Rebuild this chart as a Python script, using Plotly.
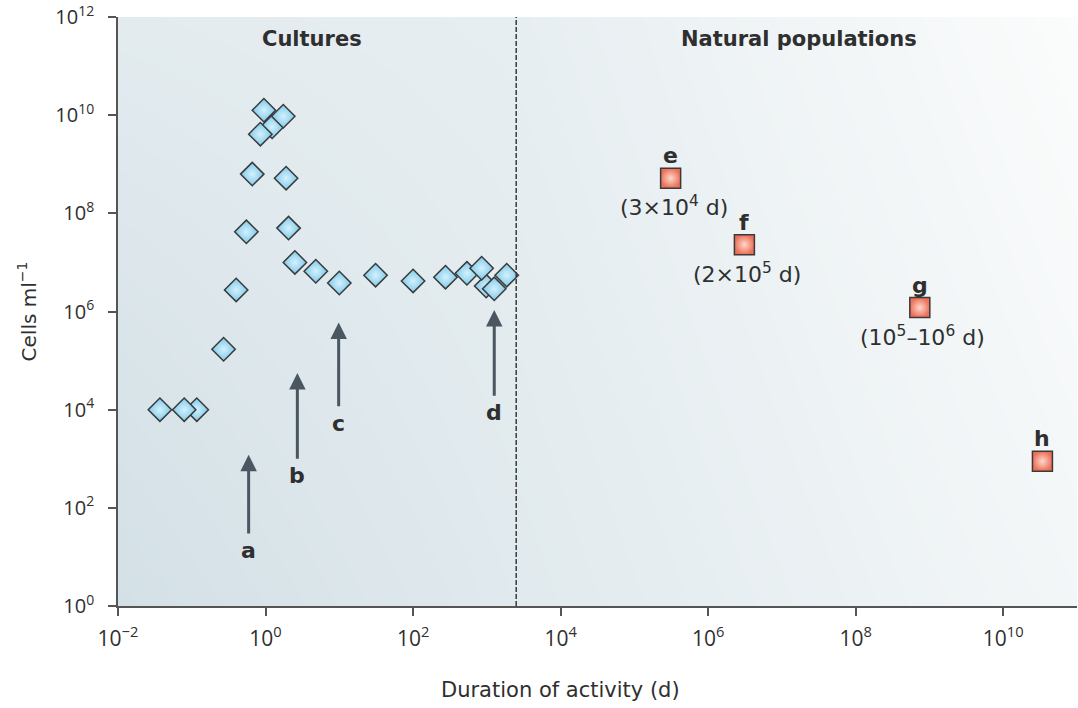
import plotly.graph_objects as go
import math

# ---- data ----
culture_days = [0.117, 1.23, 980, 0.037, 0.079, 0.27, 0.40, 0.55, 0.66, 0.85, 0.95, 1.74, 1.9, 2.05,
                2.5, 4.8, 10, 31, 100, 275, 537, 850, 1260, 1860]
culture_cells = [1e4, 5.8e9, 3.3e6, 1e4, 1e4, 1.7e5, 2.75e6, 4.2e7, 6.3e8, 4.1e9, 1.26e10, 9.5e9, 5.2e8, 5.0e7,
                 1.0e7, 6.6e6, 3.8e6, 5.5e6, 4.2e6, 5.0e6, 6.0e6, 7.6e6, 2.9e6, 5.5e6]

natural_labels = ["e", "f", "g", "h"]
natural_days = [3.1e5, 3.1e6, 7.4e8, 3.4e10]
natural_cells = [5.2e8, 2.3e7, 1.2e6, 890]
natural_notes = ["(3×10<sup>4</sup> d)", "(2×10<sup>5</sup> d)", "(10<sup>5</sup>–10<sup>6</sup> d)", ""]

arrow_labels = ["a", "b", "c", "d"]
arrow_days = [0.59, 2.7, 9.8, 1260]
arrow_tip_cells = [1.2e3, 5.6e4, 6.0e5, 1.07e6]
arrow_tail_cells = [28, 930, 1.1e4, 1.8e4]

divider_day = 2500
header_texts = ["Cultures", "Natural populations"]
header_days = [4.2, 1.7e7]

x_tickvals = [1e-2, 1, 1e2, 1e4, 1e6, 1e8, 1e10]
x_ticktext = ["10<sup>−2</sup>", "10<sup>0</sup>", "10<sup>2</sup>", "10<sup>4</sup>",
              "10<sup>6</sup>", "10<sup>8</sup>", "10<sup>10</sup>"]
y_tickvals = [1, 1e2, 1e4, 1e6, 1e8, 1e10, 1e12]
y_ticktext = ["10<sup>0</sup>", "10<sup>2</sup>", "10<sup>4</sup>", "10<sup>6</sup>",
              "10<sup>8</sup>", "10<sup>10</sup>", "10<sup>12</sup>"]

# background shading grid (decorative)
bg_x = [1e-2, 2500, 1e11]
bg_y = [1, 1e6, 1e12]
bg_z = [[1.00, 0.66, 0.20],
        [0.82, 0.58, 0.10],
        [0.60, 0.50, 0.00]]

FONT = "DejaVu Sans"
TICKFONT = "Open Sans"
TXT = "#2f2f2f"

fig = go.Figure()

fig.add_trace(go.Heatmap(
    x=bg_x, y=bg_y, z=bg_z, zsmooth="best", showscale=False, hoverinfo="skip",
    zmin=0, zmax=1, colorscale=[[0, "#fbfcfc"], [1, "#d3e0e6"]],
))

fig.add_trace(go.Scatter(
    x=culture_days, y=culture_cells, mode="markers", name="Cultures",
    marker=dict(symbol="diamond", size=18, color="#7ec9ea",
                gradient=dict(type="radial", color="#d4f1fc"),
                line=dict(color="#3a3a3a", width=1.5)),
    showlegend=False,
))

fig.add_trace(go.Scatter(
    x=natural_days, y=natural_cells, mode="markers", name="Natural populations",
    marker=dict(symbol="square", size=20, color="#ec6f58",
                gradient=dict(type="radial", color="#fdd9cc"),
                line=dict(color="#3a3a3a", width=1.5)),
    showlegend=False,
))

ann = []
for txt, xd in zip(header_texts, header_days):
    ann.append(dict(x=math.log10(xd), y=1.0, xref="x", yref="paper", yanchor="top", yshift=-8,
                    text=f"<b>{txt}</b>", showarrow=False, font=dict(family=FONT, size=21, color=TXT)))

for lab, xd, yc, note in zip(natural_labels, natural_days, natural_cells, natural_notes):
    ann.append(dict(x=math.log10(xd), y=math.log10(yc), text=f"<b>{lab}</b>", showarrow=False,
                    yanchor="bottom", yshift=8, font=dict(family=FONT, size=22, color=TXT)))
    if note:
        ann.append(dict(x=math.log10(xd), y=math.log10(yc), text=note, showarrow=False,
                        yanchor="top", yshift=-12, xshift=3, font=dict(family=FONT, size=22, color=TXT)))

for lab, xd, tip, tail in zip(arrow_labels, arrow_days, arrow_tip_cells, arrow_tail_cells):
    ann.append(dict(x=math.log10(xd), y=math.log10(tip), ax=math.log10(xd), ay=math.log10(tail),
                    axref="x", ayref="y", text="", showarrow=True, arrowhead=2, arrowsize=1.1,
                    arrowwidth=3, arrowcolor="#4a5660", standoff=0, startstandoff=0))
    ann.append(dict(x=math.log10(xd), y=math.log10(tail), text=f"<b>{lab}</b>", showarrow=False,
                    yanchor="top", yshift=-1, font=dict(family=FONT, size=22, color=TXT)))

# axis titles as paper annotations
ann.append(dict(x=-0.095, y=0.5, xref="paper", yref="paper", text="Cells ml<sup>−1</sup>", textangle=-90,
                showarrow=False, xanchor="center", yanchor="middle", font=dict(family=FONT, size=20, color=TXT)))
ann.append(dict(x=0.461, y=-0.143, xref="paper", yref="paper", text="Duration of activity (d)",
                showarrow=False, xanchor="center", yanchor="middle", font=dict(family=FONT, size=21, color=TXT)))

fig.update_layout(
    width=1078, height=708,
    margin=dict(l=118, r=1, t=17, b=102, autoexpand=False),
    paper_bgcolor="white", plot_bgcolor="white",
    font=dict(family=FONT, color=TXT),
    annotations=ann,
    shapes=[dict(type="line", xref="x", yref="paper", x0=divider_day, x1=divider_day,
                 y0=0, y1=1, line=dict(color="#3a3a3a", width=1.5, dash="5px,2px"))],
)

fig.update_xaxes(type="log", range=[-2, 11], showgrid=False, zeroline=False, automargin=False,
                 showline=True, linecolor="#555", linewidth=1.5,
                 ticks="outside", ticklen=8, tickwidth=1.5, tickcolor="#555",
                 tickvals=x_tickvals, ticktext=x_ticktext, ticklabelstandoff=5,
                 tickfont=dict(family=TICKFONT, size=21, color=TXT))
fig.update_yaxes(type="log", range=[0, 12], showgrid=False, zeroline=False, automargin=False,
                 showline=True, linecolor="#555", linewidth=1.5,
                 ticks="outside", ticklen=8, tickwidth=1.5, tickcolor="#555",
                 tickvals=y_tickvals, ticktext=y_ticktext, ticklabelstandoff=10,
                 tickfont=dict(family=TICKFONT, size=20, color=TXT))

fig.write_html("out.html", config={"displayModeBar": False},
               post_script="document.body.style.margin='0';document.body.style.overflow='hidden';")
